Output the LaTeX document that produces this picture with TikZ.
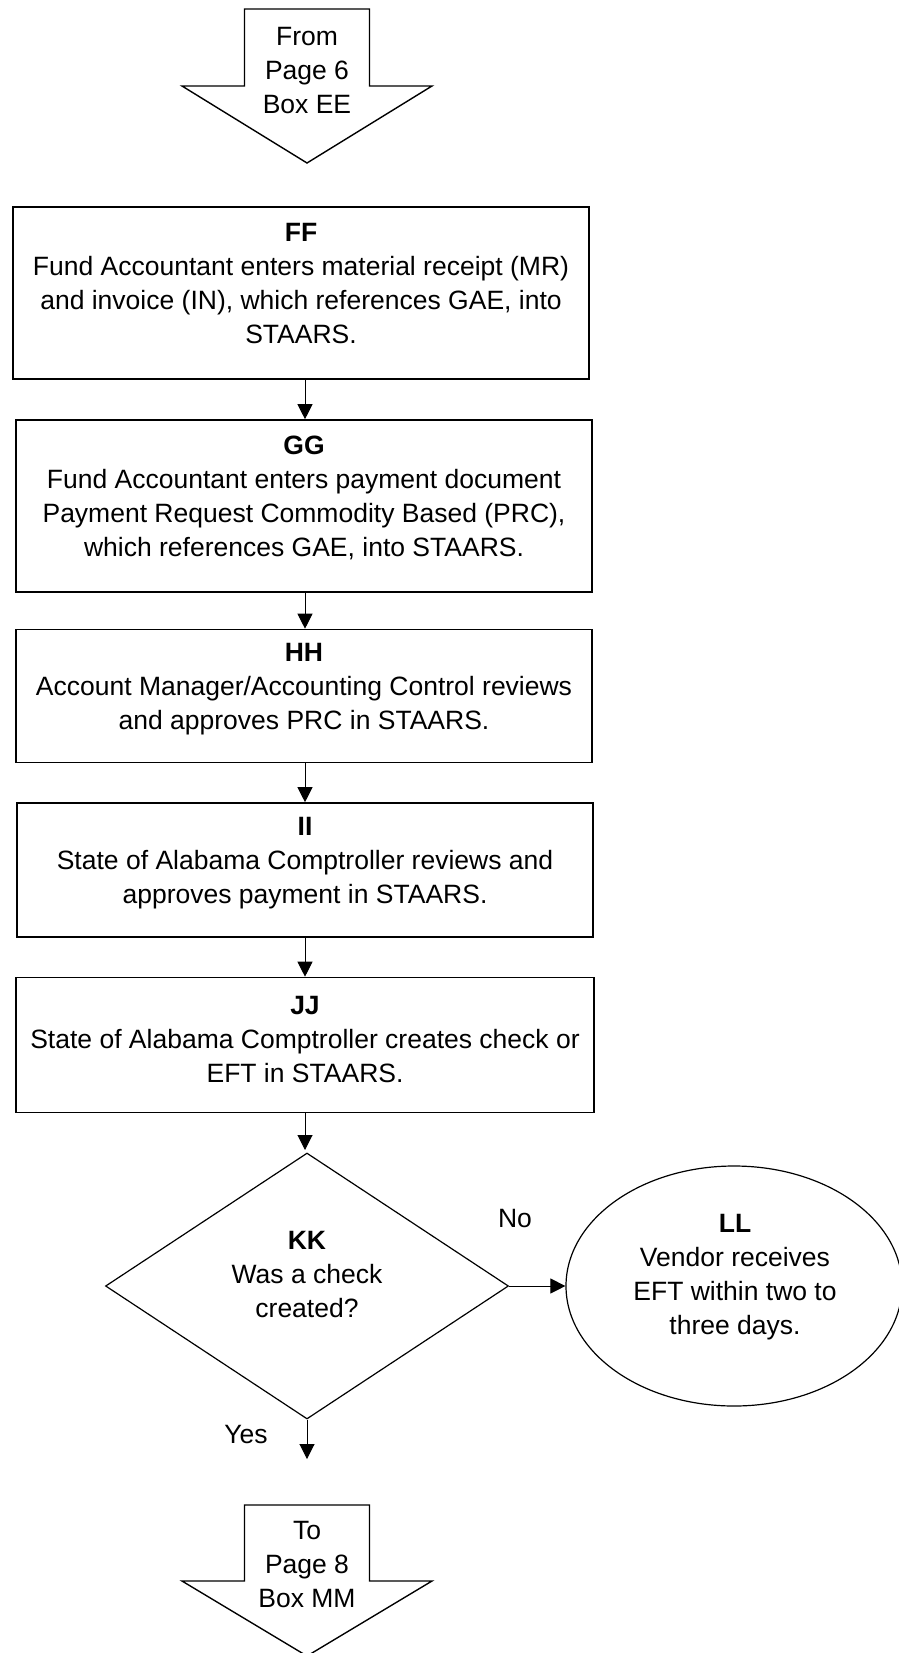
\documentclass[tikz,border=0pt]{standalone}
\usepackage{fontspec}
\setmainfont{Liberation Sans}
\usetikzlibrary{arrows.meta,shapes.geometric}
\begin{document}
\begin{tikzpicture}[x=1pt,y=-1pt,
  font=\fontsize{26.5}{34}\selectfont,
  boxshape/.style={draw,line width=1.6pt,rectangle,inner sep=0pt},
  txt/.style={align=center,inner sep=0pt},
  conn/.style={line width=1pt,-{Triangle[length=15pt,width=15pt]}},
  pagearrow/.style={draw,line width=1.4pt,line join=miter}
]
\useasboundingbox (0,0) rectangle (898,1653);
% top off-page arrow
\draw[pagearrow] (244.5,9) -- (369.5,9) -- (369.5,86) -- (432,86) -- (307,163) -- (182,86) -- (244.5,86) -- cycle;
\node[txt] (from) at (307,71) {From\\Page 6\\Box EE};
% boxes
\node[boxshape,minimum width=576pt,minimum height=172pt] (ff) at (301,293) {};
\node[txt] (fft) at (301,284) {\textbf{FF}\\Fund Accountant enters material receipt (MR)\\and invoice (IN), which references GAE, into\\STAARS.};
\node[boxshape,minimum width=576pt,minimum height=172pt] (gg) at (304,506) {};
\node[txt] (ggt) at (304,497.5) {\textbf{GG}\\Fund Accountant enters payment document\\Payment Request Commodity Based (PRC),\\which references GAE, into STAARS.};
\node[boxshape,minimum width=576pt,minimum height=133pt] (hh) at (304,696) {};
\node[txt] (hht) at (304,689.5) {\textbf{HH}\\Account Manager/Accounting Control reviews\\and approves PRC in STAARS.};
\node[boxshape,minimum width=576pt,minimum height=134pt] (ii) at (305,870) {};
\node[txt] (iit) at (305,863) {\textbf{II}\\State of Alabama Comptroller reviews and\\approves payment in STAARS.};
\node[boxshape,minimum width=578pt,minimum height=135pt] (jj) at (305,1045) {};
\node[txt] (jjt) at (305,1040) {\textbf{JJ}\\State of Alabama Comptroller creates check or\\EFT in STAARS.};
% decision
\node[draw,line width=1.2pt,diamond,minimum width=403pt,minimum height=266pt,inner sep=0pt] (kk) at (307,1286) {};
\node[txt] (kkt) at (307,1274) {\textbf{KK}\\Was a check\\created?};
% ellipse
\node[draw,line width=1.2pt,ellipse,minimum width=336pt,minimum height=240pt,inner sep=0pt] (ll) at (734,1286) {};
\node[txt] (llt) at (735,1277.5) {\textbf{LL}\\Vendor receives\\EFT within two to\\three days.};
% connectors
\coordinate (cx) at (305,0);
\draw[conn] (ff.south -| cx) -- (gg.north -| cx);
\draw[conn] (gg.south -| cx) -- (hh.north -| cx);
\draw[conn] (hh.south -| cx) -- (ii.north -| cx);
\draw[conn] (ii.south -| cx) -- (jj.north -| cx);
\draw[conn] (jj.south -| cx) -- (305,1150);
\draw[conn] (kk.east) -- (ll.west);
\coordinate (yesend) at (307,1459);
\draw[conn] (kk.south) -- (yesend);
\node[txt] (no) at (515,1218) {No};
\node[txt] (yes) at (246,1434) {Yes};
% bottom off-page arrow
\draw[pagearrow] (244.5,1505) -- (369.5,1505) -- (369.5,1581) -- (432,1581) -- (307,1656) -- (182,1581) -- (244.5,1581) -- cycle;
\node[txt] (to) at (307,1564) {To\\Page 8\\Box MM};
\end{tikzpicture}
\end{document}
